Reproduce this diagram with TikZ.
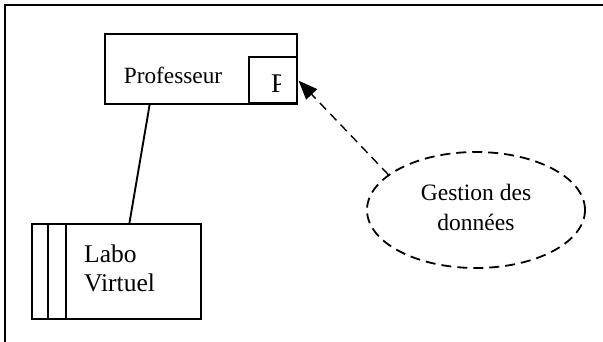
\documentclass[tikz,border=0pt]{standalone}
\usepackage{fontspec}
\setmainfont{Liberation Serif}
\usetikzlibrary{arrows.meta,shapes.geometric}

\begin{document}
\begin{tikzpicture}[
    x=1pt, y=-1pt,
    frame/.style={draw=black, line width=2pt},
    box/.style={rectangle, draw=black, line width=1.9pt, fill=white, inner sep=0pt, anchor=north west},
    usecase/.style={ellipse, draw=black, line width=1.8pt, dash pattern=on 10pt off 6pt, inner sep=0pt},
    txt/.style={font=\fontsize{23.3}{29}\selectfont, inner sep=0pt},
    link/.style={draw=black, line width=1.9pt},
    dep/.style={draw=black, line width=1.4pt, dash pattern=on 9pt off 6pt, -{Triangle[length=19pt,width=15pt]}, shorten >=1pt}
]
\useasboundingbox (0,0) rectangle (603,341);

% Frame
\draw[frame] (5,342) -- (5,5) -- (604,5);

% Professeur
\node[box, minimum width=192pt, minimum height=70pt] (prof) at (104,33) {};
\node[txt] (profText) at (173,75) {Professeur};
\node[box, minimum width=48pt, minimum height=46pt] (pbox) at (248,56) {};
\begin{scope}
\clip (pbox.south west) rectangle ([xshift=-17pt]pbox.north east);
\node[txt, font=\fontsize{27}{29}\selectfont, anchor=base west] (pText) at (271,92) {P};
\end{scope}

% Labo Virtuel
\node[box, minimum width=169pt, minimum height=95pt] (labo) at (31,223) {};
\draw[line width=1.9pt] (48,223) -- (48,318);
\draw[line width=1.9pt] (66,223) -- (66,318);
\node[txt, font=\fontsize{25.5}{29}\selectfont, align=left, anchor=west] (laboText) at (84,268) {Labo\\Virtuel};

% Gestion des donnees
\node[usecase, minimum width=218pt, minimum height=116pt] (gestion) at (476,210) {};
\node[txt, align=center, font=\fontsize{23.5}{30}\selectfont] (gestionText) at (476,207) {Gestion des\\donn\'ees};

% Connections
\draw[link] (prof.215) -- (labo.75);
\draw[dep] (gestion.158) -- (pbox.east);

\end{tikzpicture}
\end{document}
